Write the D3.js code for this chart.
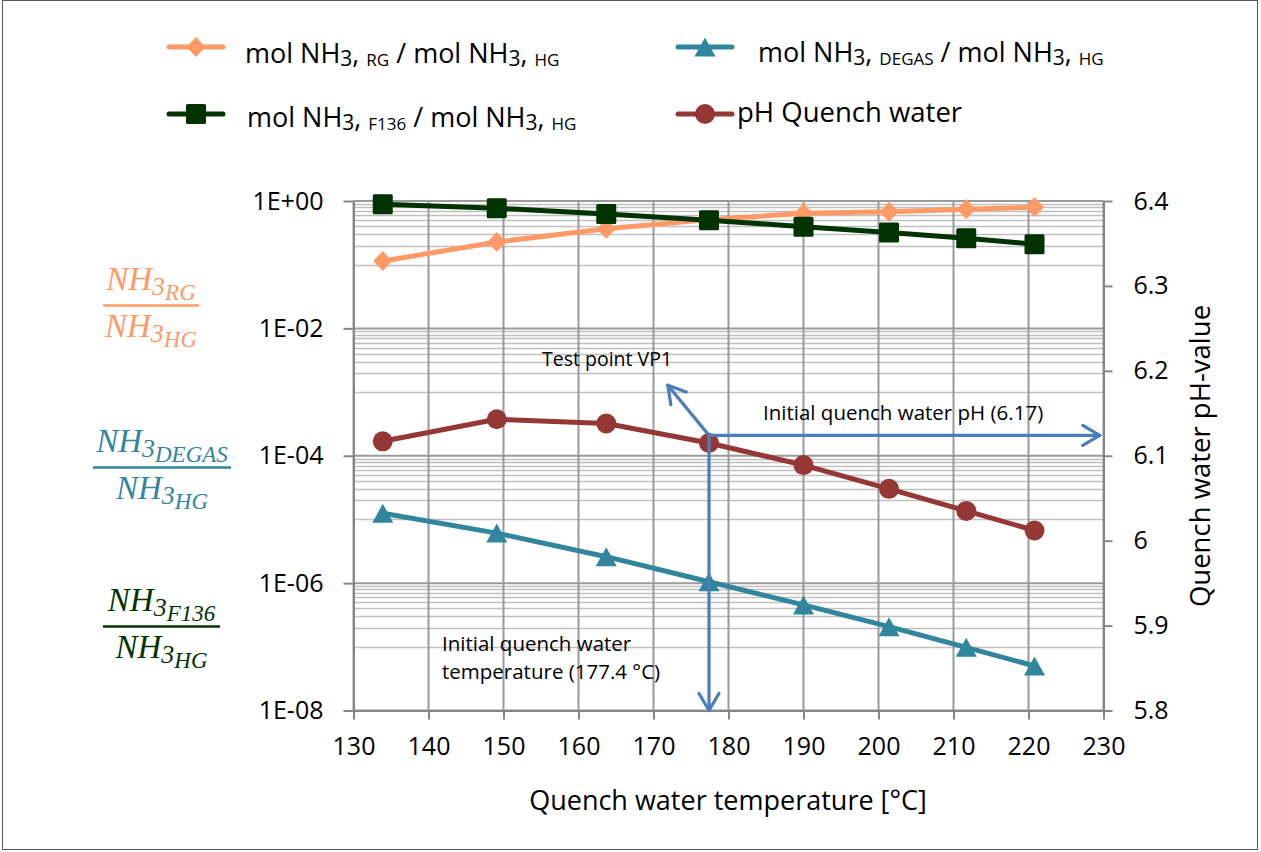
<!DOCTYPE html>
<html><head><meta charset="utf-8">
<script src="https://cdn.jsdelivr.net/npm/d3@7"></script>
<style>
html,body{margin:0;padding:0;background:#fff;}
svg{display:block;}
</style></head><body>
<svg id="chart" width="1261" height="852"></svg>
<script>
// ---------------- data ----------------
const temperatures = [133.9, 149.1, 163.7, 177.4, 190.0, 201.4, 211.7, 220.8];
const ratioRG      = [0.114, 0.227, 0.368, 0.51, 0.64, 0.68, 0.74, 0.80];
const ratioDEGAS   = [1.25e-5, 6.1e-6, 2.6e-6, 1.05e-6, 4.55e-7, 2.07e-7, 9.8e-8, 5.0e-8];
const ratioF136    = [0.89, 0.77, 0.625, 0.50, 0.395, 0.32, 0.26, 0.21];
const pHQuench     = [6.117, 6.143, 6.138, 6.115, 6.089, 6.061, 6.035, 6.012];

const xTickValues = [130, 140, 150, 160, 170, 180, 190, 200, 210, 220, 230];
const leftTickValues = [1e0, 1e-2, 1e-4, 1e-6, 1e-8];
const leftTickLabels = ["1E+00", "1E-02", "1E-04", "1E-06", "1E-08"];
const rightTickValues = [5.8, 5.9, 6.0, 6.1, 6.2, 6.3, 6.4];
const rightTickLabels = ["5.8", "5.9", "6", "6.1", "6.2", "6.3", "6.4"];

// annotation anchor (test point VP1) in data units
const vp1Temp = 177.4, vp1pH = 6.124;
const pHArrowEndTemp = 229.5;
const diagArrowEnd = [171.9, 6.183];

// ---------------- setup ----------------
const svg = d3.select("#chart");
const SANS = "'Open Sans', sans-serif";
const x = d3.scaleLinear().domain([130, 230]).range([353.5, 1103.5]);
const yL = d3.scaleLog().domain([1e-8, 1]).range([710.5, 201]);
const yR = d3.scaleLinear().domain([5.8, 6.4]).range([710.5, 201]);

const C = {
  rg: "#FF9966", degas: "#31859C", f136: "#003300", ph: "#953735",
  arrow: "#4A7EBB", axis: "#868686", gridMajor: "#9A9A9A", gridMinor: "#C0C0C0"
};

// outer border
svg.append("rect").attr("x", 2.5).attr("y", 0.5).attr("width", 1255).attr("height", 849)
  .attr("fill", "none").attr("stroke", "#595959").attr("stroke-width", 1);

// ---------------- grid ----------------
const grid = svg.append("g");
const minorVals = [];
[-1, -3, -5, -7].forEach(k => { for (let n = 1; n <= 9; n++) minorVals.push(n * Math.pow(10, k)); });
grid.selectAll("line.minor").data(minorVals).join("line")
  .attr("x1", x(130)).attr("x2", x(230))
  .attr("y1", d => Math.round(yL(d)) + 0.5).attr("y2", d => Math.round(yL(d)) + 0.5)
  .attr("stroke", C.gridMinor).attr("stroke-width", 1.3);
grid.selectAll("line.vg").data(xTickValues).join("line")
  .attr("x1", d => x(d)).attr("x2", d => x(d))
  .attr("y1", yL(1)).attr("y2", yL(1e-8))
  .attr("stroke", C.gridMajor).attr("stroke-width", 2);
grid.selectAll("line.major").data(leftTickValues).join("line")
  .attr("x1", x(130)).attr("x2", x(230))
  .attr("y1", d => yL(d)).attr("y2", d => yL(d))
  .attr("stroke", C.gridMajor).attr("stroke-width", 2);

// ---------------- axes ----------------
const axisStyle = g => {
  g.select(".domain").attr("stroke", C.axis).attr("stroke-width", 2);
  g.selectAll(".tick line").attr("stroke", C.axis).attr("stroke-width", 2);
  g.selectAll(".tick text").style("font-family", SANS).attr("font-size", 25).attr("fill", "#000");
};
svg.append("g").attr("transform", `translate(0,${yL(1e-8)})`)
  .call(d3.axisBottom(x).tickValues(xTickValues).tickSize(9).tickSizeOuter(0).tickPadding(18).tickFormat(d3.format("d")))
  .call(axisStyle);
svg.append("g").attr("transform", `translate(${x(130)},0)`)
  .call(d3.axisLeft(yL).tickValues(leftTickValues).tickSize(10).tickSizeOuter(0).tickPadding(20)
    .tickFormat((d, i) => leftTickLabels[i]))
  .call(axisStyle);
svg.append("g").attr("transform", `translate(${x(230)},0)`)
  .call(d3.axisRight(yR).tickValues(rightTickValues).tickSize(9).tickSizeOuter(0).tickPadding(21)
    .tickFormat((d, i) => rightTickLabels[i]))
  .call(axisStyle);

svg.append("text").attr("x", 728).attr("y", 810).attr("text-anchor", "middle").style("font-family", SANS)
  .attr("font-size", 27).text("Quench water temperature [°C]");
svg.append("text").attr("transform", "translate(1210,456) rotate(-90)").attr("text-anchor", "middle").style("font-family", SANS)
  .attr("font-size", 27.5).text("Quench water pH-value");

// ---------------- series ----------------
const diamond = "M0,-10L9.5,0L0,10L-9.5,0Z";
const triangle = "M0,-9.5L10.5,9.5L-10.5,9.5Z";
function series(vals, yScale, color, shape) {
  const pts = temperatures.map((t, i) => [x(t), yScale(vals[i])]);
  const g = svg.append("g");
  g.append("path").attr("d", d3.line()(pts)).attr("fill", "none").attr("stroke", color)
    .attr("stroke-width", 5).attr("stroke-linejoin", "round").attr("stroke-linecap", "round");
  drawMarkers(g, pts, color, shape);
}
function drawMarkers(g, pts, color, shape) {
  pts.forEach(p => {
    if (shape === "circle") g.append("circle").attr("cx", p[0]).attr("cy", p[1]).attr("r", 10).attr("fill", color);
    else if (shape === "square") g.append("rect").attr("x", p[0] - 10).attr("y", p[1] - 10).attr("width", 20).attr("height", 20).attr("rx", 1.5).attr("fill", color);
    else g.append("path").attr("transform", `translate(${p[0]},${p[1]})`).attr("d", shape === "diamond" ? diamond : triangle).attr("fill", color);
  });
}
series(ratioRG, yL, C.rg, "diamond");
series(ratioDEGAS, yL, C.degas, "triangle");
series(ratioF136, yL, C.f136, "square");
series(pHQuench, yR, C.ph, "circle");

// ---------------- annotation arrows ----------------
function arrow(x1, y1, x2, y2) {
  const g = svg.append("g").attr("stroke", C.arrow).attr("stroke-width", 3.2).attr("fill", "none")
    .attr("stroke-linecap", "round").attr("stroke-linejoin", "round");
  g.append("line").attr("x1", x1).attr("y1", y1).attr("x2", x2).attr("y2", y2);
  const a = Math.atan2(y2 - y1, x2 - x1), L = 17, W = 10;
  const bx = x2 - L * Math.cos(a), by = y2 - L * Math.sin(a);
  const px = -Math.sin(a) * W, py = Math.cos(a) * W;
  g.append("path").attr("d", `M${bx + px},${by + py}L${x2},${y2}L${bx - px},${by - py}`);
}
const ax0 = x(vp1Temp), ay0 = yR(vp1pH);
arrow(ax0, ay0, x(pHArrowEndTemp), ay0);
arrow(ax0, ay0, ax0, yL(1e-8));
arrow(ax0, ay0, x(diagArrowEnd[0]), yR(diagArrowEnd[1]));

const note = (tx, ty, s, fs) => svg.append("text").attr("x", tx).attr("y", ty).style("font-family", SANS)
  .attr("font-size", fs).text(s);
note(542, 366, "Test point VP1", 19.5);
note(763, 420, "Initial quench water pH (6.17)", 20.5);
note(442, 651, "Initial quench water", 20.5);
note(442, 679, "temperature (177.4 °C)", 20.5);

// ---------------- rich text helper ----------------
function richText(sel, parts) {
  let prev = 0;
  parts.forEach(p => {
    const shift = p.s || 0;
    sel.append("tspan").attr("dy", shift - prev).attr("font-size", p.f).text(p.t);
    prev = shift;
  });
  return sel;
}

// ---------------- legend ----------------
const sub = (s) => [{t:"mol NH",f:27},{t:"3",f:21,s:3},{t:", ",f:27},{t:s,f:17,s:3},{t:" / mol NH",f:27},{t:"3",f:21,s:3},{t:", ",f:27},{t:"HG",f:17,s:3}];
const legendItems = [
  { color: C.rg, shape: "diamond", lx: 169, ly: 47, tx: 245, ty: 63, parts: sub("RG") },
  { color: C.degas, shape: "triangle", lx: 678, ly: 47, tx: 758, ty: 62, parts: sub("DEGAS") },
  { color: C.f136, shape: "square", lx: 169, ly: 114, tx: 247, ty: 127, parts: sub("F136") },
  { color: C.ph, shape: "circle", lx: 678, ly: 114, tx: 737, ty: 122, parts: [{t:"pH Quench water",f:27.5}] }
];
legendItems.forEach(it => {
  const g = svg.append("g");
  g.append("line").attr("x1", it.lx).attr("x2", it.lx + 54).attr("y1", it.ly).attr("y2", it.ly)
    .attr("stroke", it.color).attr("stroke-width", 5).attr("stroke-linecap", "round");
  drawMarkers(g, [[it.lx + 27, it.ly]], it.color, it.shape);
  richText(g.append("text").attr("x", it.tx).attr("y", it.ty).style("font-family", SANS).attr("fill", "#000"), it.parts);
});

// ---------------- left fraction labels ----------------
const fracs = [
  { color: C.rg, cx: 151, ly: 305.5, x1: 103, x2: 199, num: "RG" },
  { color: C.degas, cx: 162, ly: 467.5, x1: 93, x2: 231, num: "DEGAS" },
  { color: C.f136, cx: 161.5, ly: 626.5, x1: 103, x2: 220, num: "F136" }
];
fracs.forEach(fr => {
  const g = svg.append("g");
  const mk = (y, s) => richText(
    g.append("text").attr("x", fr.cx).attr("y", y).attr("text-anchor", "middle")
      .style("font-family", "'Liberation Serif', serif").style("font-style", "italic").attr("fill", fr.color),
    [{t:"NH",f:33},{t:"3",f:26,s:5},{t:s,f:23,s:10}]);
  mk(fr.ly - 16, fr.num);
  mk(fr.ly + 31, "HG");
  g.append("line").attr("x1", fr.x1).attr("x2", fr.x2).attr("y1", fr.ly).attr("y2", fr.ly)
    .attr("stroke", fr.color).attr("stroke-width", 2.5);
});
</script>
</body></html>
